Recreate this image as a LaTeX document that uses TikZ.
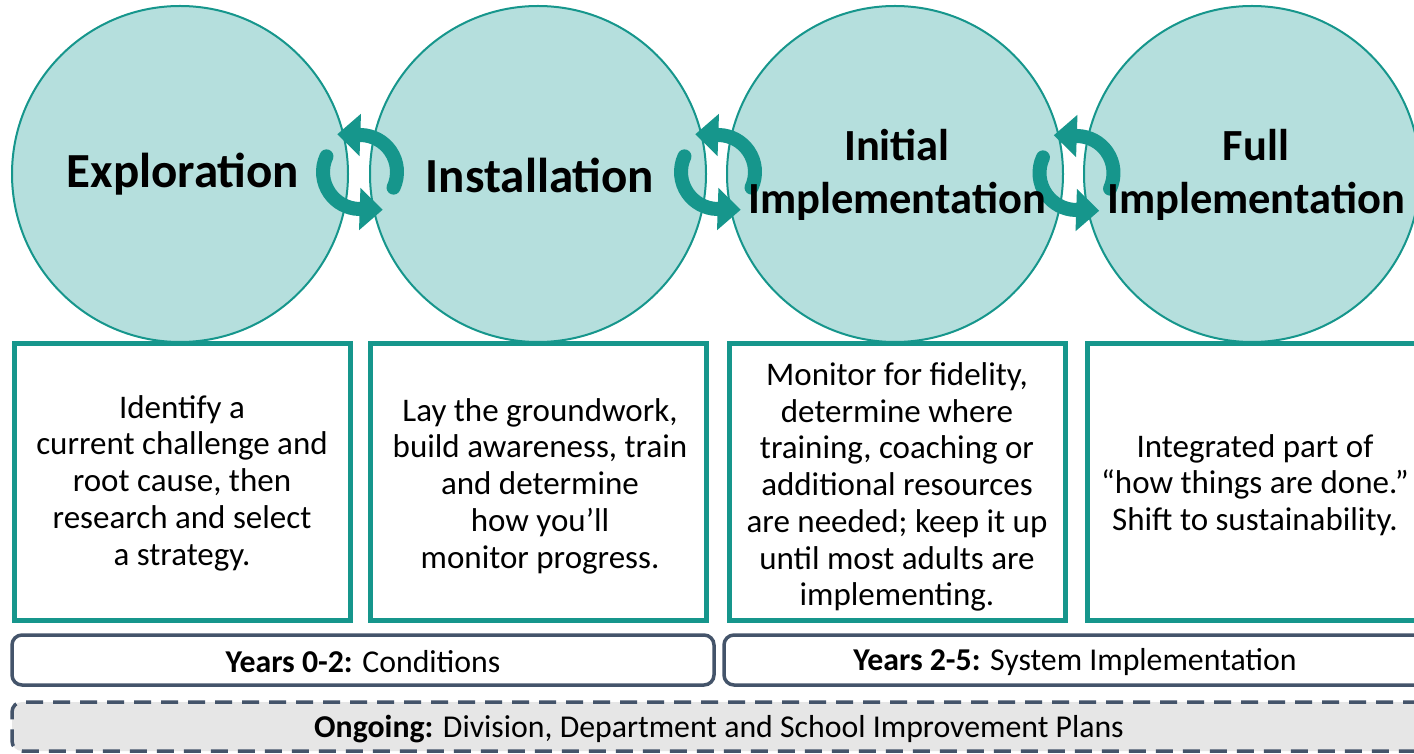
\documentclass[tikz,border=0pt]{standalone}
\usepackage{fontspec}
\setmainfont{Carlito}
\usetikzlibrary{arrows.meta,calc}
\definecolor{teal1}{HTML}{16968C}
\definecolor{tealfill}{HTML}{B5DFDD}
\definecolor{slate}{HTML}{44546A}
\definecolor{grayfill}{HTML}{E6E6E6}
\tikzset{
  phase/.style={circle,draw=teal1,fill=tealfill,line width=2pt,minimum size=336pt,inner sep=0pt},
  titlea/.style={font=\fontsize{49}{55}\selectfont\bfseries,align=center,inner sep=0pt},
  titleb/.style={font=\fontsize{44.5}{53}\selectfont\bfseries,align=center,inner sep=0pt},
  descbox/.style={draw=teal1,line width=5pt,fill=white,minimum width=336pt,minimum height=276pt,inner sep=0pt},
  desctext/.style={font=\fontsize{33}{36.7}\selectfont,align=center,inner sep=0pt},
  cyc/.style={draw=teal1,line width=14pt,line cap=round,-{Triangle[width=41pt,length=23pt]}},
  yearbar/.style={draw=slate,line width=3.5pt,fill=white,rounded corners=10pt,minimum height=50pt,inner sep=0pt},
  ongoing/.style={draw=slate,line width=3.5pt,fill=grayfill,dash pattern=on 17pt off 10pt,rounded corners=10pt,minimum height=49pt,inner sep=0pt},
  bartext/.style={font=\fontsize{31.8}{36}\selectfont,inner sep=0pt}
}
\begin{document}
\begin{tikzpicture}[x=1pt,y=1pt]
\useasboundingbox (0,0) rectangle (1414,753);
\clip (0,0) rectangle (1414,753);
\fill[white] (0,0) rectangle (1414,753);
% circles
\node[phase] (c1) at (180,579) {};
\node[phase] (c2) at (538,579) {};
\node[phase] (c3) at (895,579) {};
\node[phase] (c4) at (1252,579) {};
% cycle arrows
\coordinate (a1) at ($(c1.east)!0.5!(c2.west)+(1pt,2pt)$);
\coordinate (a2) at ($(c2.east)!0.5!(c3.west)+(1.5pt,2pt)$);
\coordinate (a3) at ($(c3.east)!0.5!(c4.west)+(3pt,1pt)$);
\foreach \a in {a1,a2,a3}{
  \draw[cyc] ($(\a)+(-25:37pt)$) arc[start angle=-25,end angle=88,radius=37pt] -- ++(-24pt,0.8pt);
  \draw[cyc] ($(\a)+(155:37pt)$) arc[start angle=155,end angle=268,radius=37pt] -- ++(24pt,-0.8pt);
}
% titles
\node[titlea] (t1) at (183,579) {Exploration};
\node[titlea] (t2) at (540,578) {Installation};
\node[titleb] (t3) at (897,578) {Initial\\Implementation};
\node[titleb] (t4) at (1256,578) {Full\\Implementation};
% description boxes
\node[descbox] (b1) at (182,271) {};
\node[descbox] (b2) at (538,271) {};
\node[descbox] (b3) at (897,271) {};
\node[descbox] (b4) at (1255,271) {};
\node[desctext] (d1) at (182,270) {Identify a\\current challenge and\\root cause, then\\research and select\\a strategy.};
\node[desctext] (d2) at (540,267) {Lay the groundwork,\\build awareness, train\\and determine\\how you’ll\\monitor progress.};
\node[desctext] (d3) at (897,266) {Monitor for fidelity,\\determine where\\training, coaching or\\additional resources\\are needed; keep it up\\until most adults are\\implementing.};
\node[desctext] (d4) at (1255,268) {Integrated part of\\“how things are done.”\\Shift to sustainability.};
% year bars
\node[yearbar,minimum width=702pt] (y1) at (363,93) {};
\node[yearbar,minimum width=706pt] (y2) at (1077,93) {};
\node[ongoing,minimum width=1418pt] (og) at (721,26.5) {};
\node[bartext] (y1t) at (363,91) {\textbf{Years 0-2:} Conditions};
\node[bartext] (y2t) at (1075,91) {\textbf{Years 2-5:} System Implementation};
\node[bartext] (ogt) at (719,24) {\textbf{Ongoing:} Division, Department and School Improvement Plans};
\end{tikzpicture}
\end{document}
